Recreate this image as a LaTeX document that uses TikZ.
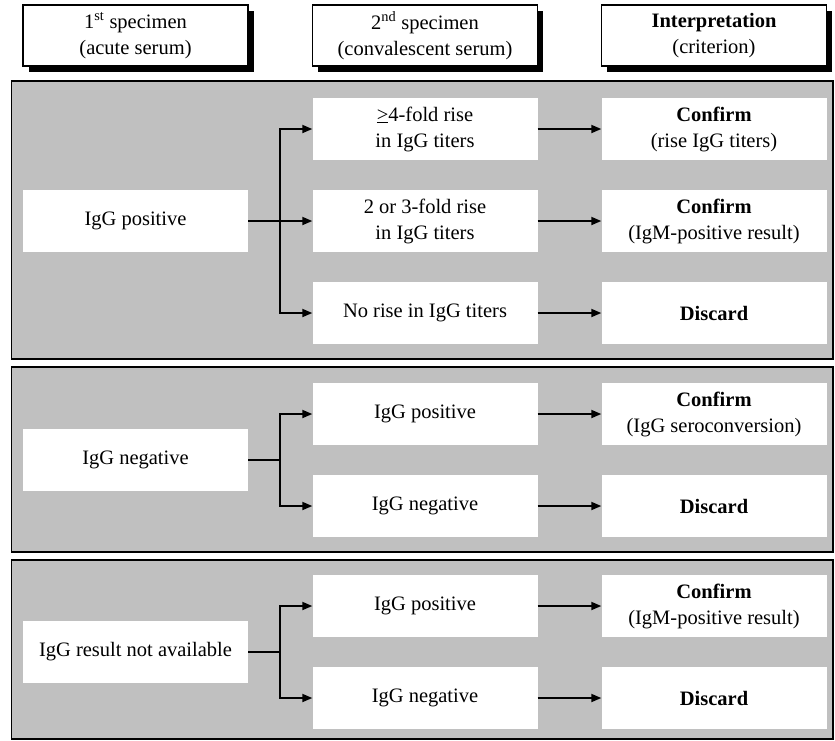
\documentclass[tikz,border=0pt]{standalone}
\usepackage{fontspec}
\setmainfont{Liberation Serif}
\usetikzlibrary{arrows.meta,shadows}
\definecolor{panelgray}{RGB}{192,192,192}
\begin{document}
\begin{tikzpicture}[x=1pt,y=-1pt,
  every node/.style={font=\fontsize{20.5}{26}\selectfont, align=center, inner sep=0pt},
  panel/.style={fill=panelgray, draw=black, line width=1.5pt},
  hbox/.style={draw=black, fill=white, line width=1.5pt, minimum width=225pt, minimum height=61pt,
    drop shadow={fill=black, opacity=1, shadow xshift=5.5pt, shadow yshift=-5.5pt}},
  wbox/.style={fill=white, minimum width=225pt, minimum height=62pt},
  arr/.style={line width=1.8pt, -{Triangle[length=10pt,width=8pt]}},
  ln/.style={line width=1.8pt}]
\useasboundingbox (0,0) rectangle (835,740);
\fill[white] (0,0) rectangle (835,740);
% header
\node[hbox] (h1) at (135.5,35.5) {1\textsuperscript{st} specimen\\(acute serum)};
\node[hbox] (h2) at (425,35.5) {2\textsuperscript{nd} specimen\\(convalescent serum)};
\node[hbox] (h3) at (714,35.5) {\textbf{Interpretation}\\(criterion)};
% panels
\draw[panel] (11.5,81) rectangle (833,359);
\draw[panel] (11.5,367) rectangle (833,552);
\draw[panel] (11.5,560) rectangle (833,739);
% panel 1
\node[wbox] (a0) at (135.5,221) {IgG positive};
\node[wbox] (a1) at (425,129) {\underline{>}4-fold rise\\in IgG titers};
\node[wbox] (a2) at (425,221) {2 or 3-fold rise\\in IgG titers};
\node[wbox] (a3) at (425,313) {No rise in IgG titers};
\node[wbox] (r1) at (714,129) {\textbf{Confirm}\\(rise IgG titers)};
\node[wbox] (r2) at (714,221) {\textbf{Confirm}\\(IgM-positive result)};
\node[wbox] (r3) at (714,313) {\textbf{Discard}};
\coordinate (ja) at (280,221);
\draw[ln] (a0.east) -- (ja);
\draw[arr] (ja) |- (a1.west);
\draw[arr] (ja) -- (a2.west);
\draw[arr] (ja) |- (a3.west);
\draw[arr] (a1) -- (r1);
\draw[arr] (a2) -- (r2);
\draw[arr] (a3) -- (r3);
% panel 2
\node[wbox] (b0) at (135.5,460) {IgG negative};
\node[wbox] (b1) at (425,414) {IgG positive};
\node[wbox] (b2) at (425,506) {IgG negative};
\node[wbox] (s1) at (714,414) {\textbf{Confirm}\\(IgG seroconversion)};
\node[wbox] (s2) at (714,506) {\textbf{Discard}};
\coordinate (jb) at (280,460);
\draw[ln] (b0.east) -- (jb);
\draw[arr] (jb) |- (b1.west);
\draw[arr] (jb) |- (b2.west);
\draw[arr] (b1) -- (s1);
\draw[arr] (b2) -- (s2);
% panel 3
\node[wbox] (c0) at (135.5,652) {IgG result not available};
\node[wbox] (c1) at (425,606) {IgG positive};
\node[wbox] (c2) at (425,698) {IgG negative};
\node[wbox] (t1) at (714,606) {\textbf{Confirm}\\(IgM-positive result)};
\node[wbox] (t2) at (714,698) {\textbf{Discard}};
\coordinate (jc) at (280,652);
\draw[ln] (c0.east) -- (jc);
\draw[arr] (jc) |- (c1.west);
\draw[arr] (jc) |- (c2.west);
\draw[arr] (c1) -- (t1);
\draw[arr] (c2) -- (t2);
\end{tikzpicture}
\end{document}
